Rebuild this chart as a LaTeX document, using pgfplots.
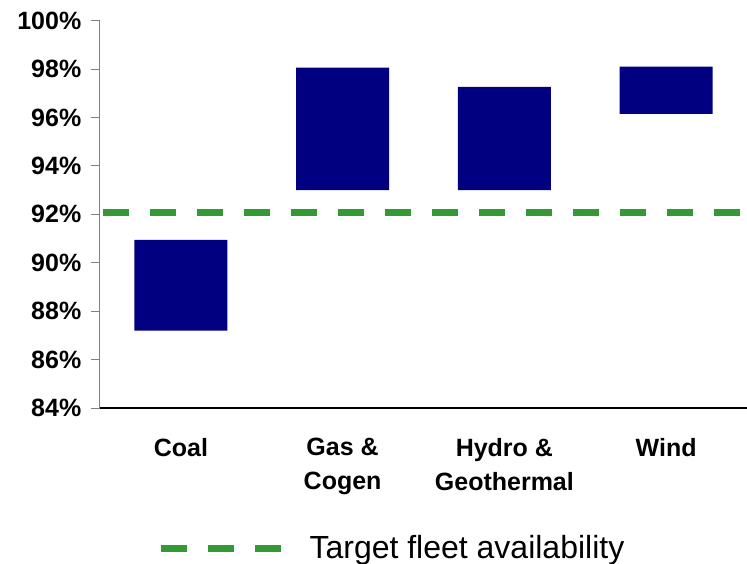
\documentclass[border=0pt]{standalone}
\usepackage{pgfplots}
\pgfplotsset{compat=1.18}
\usepackage{fontspec}
\setmainfont{Liberation Sans}
\definecolor{barnavy}{RGB}{0,0,128}
\definecolor{tgreen}{RGB}{51,153,51}
\begin{document}
\begin{tikzpicture}
\useasboundingbox (-75pt,-117pt) rectangle (485.25pt,306pt);
\begin{axis}[
 at={(0pt,0pt)}, anchor=south west,
 scale only axis, width=485.25pt, height=290.5pt,
 xmin=-0.5, xmax=3.5, ymin=84, ymax=100,
 enlargelimits=false,
 axis lines*=left,
 ybar stacked, bar width=0.575,
 tick align=outside,
 ytick={84,86,...,100},
 yticklabels={84\%,86\%,88\%,90\%,92\%,94\%,96\%,98\%,100\%},
 xtick={0,1,2,3},
 xticklabels={Coal, Gas \&\\Cogen, Hydro \&\\Geothermal, Wind},
 x tick label style={align=center, font=\fontsize{18.75pt}{25.5pt}\selectfont\bfseries, yshift=-12.5pt},
 y tick label style={font=\fontsize{18.75pt}{22pt}\selectfont\bfseries, xshift=-4pt},
 major tick length=6.5pt,
 major x tick style={draw=none},
 extra x ticks={-0.5,0.5,1.5,2.5},
 extra x tick labels={},
 extra x tick style={tick style={draw=gray, line width=0.75pt}},
 y tick style={gray, line width=0.75pt},
 x axis line style={black, line width=1.5pt},
 y axis line style={gray, line width=0.75pt},
 legend image code/.code={\draw[#1] (0pt,0pt) -- (90pt,0pt); \path (109pt,0pt);},
 legend style={at={(0.088,-0.362)}, anchor=west, draw=none, fill=none,
   font=\fontsize{24pt}{28pt}\selectfont, inner sep=0pt, nodes={inner sep=0pt}},
]
\addplot[draw=none, fill=none, forget plot] coordinates {(0,87.2) (1,93.0) (2,93.0) (3,96.15)};
\addplot[draw=none, fill=barnavy, forget plot] coordinates {(0,3.75) (1,5.06) (2,4.27) (3,1.95)};
\addplot[stack plots=false, sharp plot, tgreen, line width=5.25pt, dash pattern=on 19.5pt off 15.75pt]
  coordinates {(-0.48,92.07) (3.5,92.07)};
\addlegendentry{Target fleet availability}
\end{axis}
\end{tikzpicture}
\end{document}
